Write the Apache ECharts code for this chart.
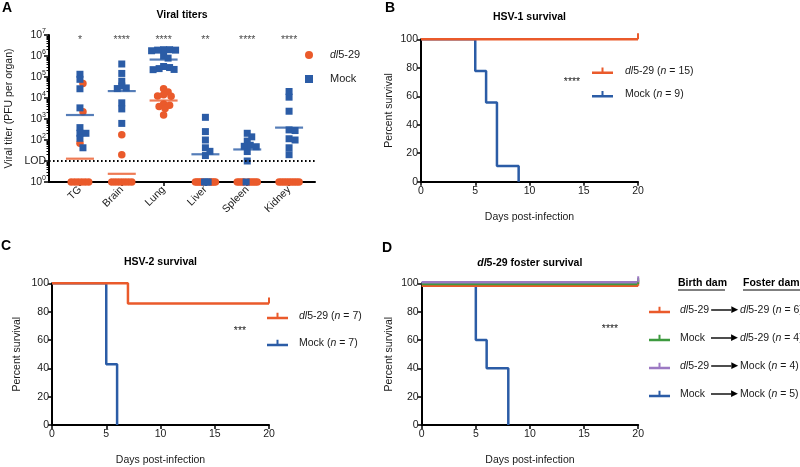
<!DOCTYPE html>
<html><head><meta charset="utf-8">
<script src="https://cdn.jsdelivr.net/npm/echarts@6/dist/echarts.min.js"></script>
<style>html,body{margin:0;padding:0;background:#fff}#c{width:800px;height:467px}</style>
</head><body><div id="c"></div>
<script>
// ---------- Panel A: log10 viral titer (PFU per organ); 0 = below LOD, plotted at 10^0 ----------
const organs = ['TG', 'Brain', 'Lung', 'Liver', 'Spleen', 'Kidney'];
const sigLabels = ['*', '****', '****', '**', '****', '****'];
const titerDl = [
  [4.69, 3.35, 1.84, 0, 0, 0, 0, 0, 0],
  [2.25, 1.30, 0, 0, 0, 0, 0, 0, 0],
  [4.44, 4.28, 4.15, 4.10, 4.08, 3.72, 3.65, 3.60, 3.50, 3.19],
  [0, 0, 0, 0, 0, 0, 0, 0, 0],
  [0, 0, 0, 0, 0, 0, 0, 0, 0],
  [0, 0, 0, 0, 0, 0, 0, 0, 0]
];
const titerMock = [
  [5.13, 4.89, 4.44, 3.53, 2.59, 2.32, 2.32, 2.08, 1.63],
  [5.62, 5.17, 4.80, 4.57, 4.48, 4.45, 3.77, 3.48, 2.79],
  [6.28, 6.30, 6.30, 6.28, 6.25, 6.00, 5.90, 5.50, 5.45, 5.40, 5.36, 5.35],
  [3.08, 2.40, 2.00, 1.63, 1.46, 1.26, 0, 0, 0],
  [2.32, 2.15, 1.95, 1.75, 1.70, 1.68, 1.45, 1.00, 0],
  [4.31, 4.04, 3.37, 2.48, 2.45, 2.06, 2.00, 1.63, 1.30]
];
const meanDl = [1.11, 0.39, 3.88, 0, 0, 0];
const meanMock = [3.19, 4.33, 5.83, 1.32, 1.55, 2.59];
const yTicksA = [0, 1, 2, 3, 4, 5, 6, 7];
const lodLog = 1;

// ---------- Survival data (day, percent survival) ----------
const hsv1DlDays = [0, 20],            hsv1DlSurv = [100, 100];
const hsv1MockDays = [0, 5, 6, 7, 9],  hsv1MockSurv = [100, 77.8, 55.6, 11.1, 0];
const hsv2DlDays = [0, 7, 20],         hsv2DlSurv = [100, 85.7, 85.7];
const hsv2MockDays = [0, 5, 6],        hsv2MockSurv = [100, 42.9, 0];
const birthDam = ['dl5-29', 'Mock', 'dl5-29', 'Mock'];
const fosterDam = ['dl5-29', 'dl5-29', 'Mock', 'Mock'];
const fosterN = [6, 4, 4, 5];
const fosterDays = [[0, 20], [0, 20], [0, 20], [0, 5, 6, 8]];
const fosterSurv = [[100, 100], [100, 100], [100, 100], [100, 60, 40, 0]];

// ---------- styling ----------
const RED = '#EA5A2B', BLUE = '#2B5CA6', GREEN = '#3D9A3F', PURPLE = '#9C79C3';
const FONT = '"Liberation Sans", Arial, sans-serif';
const TXT = '#1a1a1a';
const FS = 10.5;

const chart = echarts.init(document.getElementById('c'), null, {renderer: 'canvas'});

// Panel A geometry (for beeswarm layout)
const GA = {left: 49, top: 35, width: 266, height: 147};
const xMinA = -0.74, xMaxA = 5.62, yMaxA = 7;
const pxX = GA.width / (xMaxA - xMinA), pxY = GA.height / yMaxA;

function swarm(dlVals, mockVals, cat) {
  const outDl = [], outMock = [];
  const placed = [];
  const nz = [];
  dlVals.forEach(v => { if (v > 0) nz.push({s: 0, v}); });
  mockVals.forEach(v => { if (v > 0) nz.push({s: 1, v}); });
  nz.sort((a, b) => b.v - a.v);
  const D = 4.8, STEP = 1.5;
  nz.forEach(p => {
    const py = p.v * pxY;
    let off = 0;
    for (let k = 0; k < 80; k++) {
      const o = (k % 2 ? 1 : -1) * Math.ceil(k / 2) * STEP;
      if (placed.every(q => (o - q.x) ** 2 + (py - q.y) ** 2 >= D * D)) { off = o; break; }
    }
    placed.push({x: off, y: py});
    (p.s ? outMock : outDl).push([cat + off / pxX, p.v]);
  });
  // values below LOD: single row, spread with overlap
  const n0d = dlVals.filter(v => v === 0).length, n0m = mockVals.filter(v => v === 0).length;
  const N = n0d + n0m;
  if (N > 0) {
    const W = Math.min(20, (N - 1) * 3.5);
    const pos = [];
    for (let i = 0; i < N; i++) pos.push(N === 1 ? 0 : -W / 2 + W * i / (N - 1));
    pos.sort((a, b) => Math.abs(a) - Math.abs(b));
    pos.forEach((o, i) => {
      (i < n0m ? outMock : outDl).push([cat + o / pxX, 0]);
    });
  }
  return {outDl, outMock};
}

const dlPts = [], mockPts = [];
organs.forEach((o, i) => {
  const r = swarm(titerDl[i], titerMock[i], i);
  dlPts.push(...r.outDl); mockPts.push(...r.outMock);
});

const minorA = [];
for (let n = 0; n < 7; n++) for (let k = 2; k <= 9; k++) minorA.push(n + Math.log10(k));

const axLine = {show: true, onZero: false, lineStyle: {color: '#000', width: 2}};
const axTick = {show: true, length: 4, lineStyle: {color: '#000', width: 1.5}};
const lblStyle = {fontSize: FS, color: TXT, fontFamily: FONT};
const nameStyle = {fontSize: FS, color: TXT, fontFamily: FONT};

const grids = [
  GA,
  {left: 421, top: 39.3, width: 217, height: 142.4},
  {left: 52, top: 283.3, width: 217, height: 143.4},
  {left: 421.7, top: 283.3, width: 216.5, height: 143.4},
  // overlay grids for the overlapping 100% curves in panel D (slight vertical separation)
  {left: 421.7, top: 285.8, width: 216.5, height: 143.4},
  {left: 421.7, top: 284.1, width: 216.5, height: 143.4},
  {left: 421.7, top: 282.3, width: 216.5, height: 143.4}
];

const xAxes = [{
  gridIndex: 0, type: 'value', min: xMinA, max: xMaxA,
  axisLine: axLine,
  axisTick: {show: true, length: 4, customValues: [0, 1, 2, 3, 4, 5], lineStyle: {color: '#000', width: 1.5}},
  axisLabel: {show: true, customValues: [0, 1, 2, 3, 4, 5], rotate: 45, margin: 6, formatter: v => organs[Math.round(v)], ...lblStyle},
  splitLine: {show: false}
}];
const yAxes = [{
  gridIndex: 0, type: 'value', min: 0, max: yMaxA,
  axisLine: axLine,
  axisTick: {show: true, length: 5, customValues: yTicksA, lineStyle: {color: '#000', width: 1.5}},
  axisLabel: {
    show: true, customValues: yTicksA, margin: 3,
    formatter: v => (v === lodLog ? '{l|LOD}' : '{b|10}{s|' + v + '}'),
    rich: {
      b: {fontSize: 10.5, fontFamily: FONT, color: TXT},
      l: {fontSize: 10.5, fontFamily: FONT, color: TXT},
      s: {fontSize: 7, fontFamily: FONT, color: TXT, padding: [0, 0, 7, 0]}
    }
  },
  splitLine: {show: false},
  name: 'Viral titer (PFU per organ)', nameLocation: 'middle', nameGap: 34, nameTextStyle: nameStyle
}, {
  gridIndex: 0, type: 'value', min: 0, max: yMaxA, position: 'left',
  axisLine: {show: false, onZero: false},
  axisTick: {show: true, length: 2.5, customValues: minorA, lineStyle: {color: '#000', width: 1}},
  axisLabel: {show: false}, splitLine: {show: false}
}];

function survAxes(gi, yGap) {
  xAxes.push({
    gridIndex: gi, type: 'value', min: 0, max: 20, interval: 5,
    axisLine: axLine, axisTick: axTick, axisLabel: {margin: 4, ...lblStyle}, splitLine: {show: false},
    name: 'Days post-infection', nameLocation: 'middle', nameGap: 30, nameTextStyle: nameStyle
  });
  yAxes.push({
    gridIndex: gi, type: 'value', min: 0, max: 100, interval: 20,
    axisLine: axLine, axisTick: axTick, axisLabel: {margin: 3, ...lblStyle}, splitLine: {show: false},
    name: 'Percent survival', nameLocation: 'middle', nameGap: yGap, nameTextStyle: nameStyle
  });
}
survAxes(1, 26); // B -> x idx1, y idx2
survAxes(2, 29); // C -> x idx2, y idx3
survAxes(3, 27); // D -> x idx3, y idx4
for (let g = 4; g <= 6; g++) {
  xAxes.push({gridIndex: g, type: 'value', min: 0, max: 20, show: false});
  yAxes.push({gridIndex: g, type: 'value', min: 0, max: 100, show: false});
}

function curve(days, surv) {
  return days.map((d, i) => {
    const last = i === days.length - 1;
    if (last && surv[i] > 0) {
      return {value: [d, surv[i]], symbol: 'rect', symbolSize: [2, 6], symbolOffset: [0, -3]};
    }
    return [d, surv[i]];
  });
}
function survSeries(name, color, xi, yi, days, surv) {
  return {
    name, type: 'line', step: 'end', xAxisIndex: xi, yAxisIndex: yi,
    data: curve(days, surv), symbol: 'none', showSymbol: true,
    lineStyle: {color, width: 2.5}, itemStyle: {color}, emphasis: {disabled: true}, animation: false
  };
}

const fosterNames = birthDam.map((b, i) => `${b} → ${fosterDam[i]} (n = ${fosterN[i]})`);

const series = [
  {
    name: 'dl5-29', type: 'scatter', xAxisIndex: 0, yAxisIndex: 0, data: dlPts,
    symbol: 'circle', symbolSize: 7.5, itemStyle: {color: RED, opacity: 1}, z: 3,
    markLine: {
      silent: true, symbol: 'none', label: {show: false},
      lineStyle: {color: '#000', width: 1.8, type: [1.6, 2.4]},
      data: [{yAxis: lodLog}]
    }
  },
  {
    name: 'Mock', type: 'scatter', xAxisIndex: 0, yAxisIndex: 0, data: mockPts,
    symbol: 'rect', symbolSize: 7, itemStyle: {color: BLUE, opacity: 1}, z: 4
  },
  {
    name: 'dl5-29 mean', type: 'scatter', xAxisIndex: 0, yAxisIndex: 0,
    data: meanDl.map((m, i) => [i, m]).filter(d => d[1] > 0),
    symbol: 'rect', symbolSize: [28, 2.2], itemStyle: {color: RED}, z: 3
  },
  {
    name: 'Mock mean', type: 'scatter', xAxisIndex: 0, yAxisIndex: 0,
    data: meanMock.map((m, i) => [i, m]).filter(d => d[1] > 0),
    symbol: 'rect', symbolSize: [28, 2.2], itemStyle: {color: BLUE}, z: 5
  },
  {
    name: 'sig', type: 'scatter', xAxisIndex: 0, yAxisIndex: 0,
    data: organs.map((o, i) => [i, yMaxA]), symbolSize: 0, silent: true,
    label: {show: true, position: 'inside', offset: [0, 5], formatter: p => sigLabels[p.dataIndex],
      fontSize: FS, color: '#222', fontFamily: FONT}
  },
  // B
  survSeries('Mock (n = 9)', BLUE, 1, 2, hsv1MockDays, hsv1MockSurv),
  survSeries('dl5-29 (n = 15)', RED, 1, 2, hsv1DlDays, hsv1DlSurv),
  // C
  survSeries('Mock (n = 7)', BLUE, 2, 3, hsv2MockDays, hsv2MockSurv),
  survSeries('dl5-29 (n = 7)', RED, 2, 3, hsv2DlDays, hsv2DlSurv),
  // D
  survSeries(fosterNames[3], BLUE, 3, 4, fosterDays[3], fosterSurv[3]),
  survSeries(fosterNames[0], RED, 4, 5, fosterDays[0], fosterSurv[0]),
  survSeries(fosterNames[1], GREEN, 5, 6, fosterDays[1], fosterSurv[1]),
  survSeries(fosterNames[2], PURPLE, 6, 7, fosterDays[2], fosterSurv[2])
];

const censorIcon = 'path://M0,4.5H21V7H0Z M9.5,0.5H11.5V5H9.5Z';
const richBase = {fontSize: FS, fontFamily: FONT, color: TXT, lineHeight: 14};
const legRich = {
  i: {...richBase, fontStyle: 'italic'},
  c1: {...richBase, width: 31},
  c1i: {...richBase, fontStyle: 'italic'},
  c1r: {...richBase, width: 23},
  ln: {...richBase, width: 20, height: 1.4, lineHeight: 1.4, backgroundColor: '#000'},
  tri: {fontSize: 9, fontFamily: 'DejaVu Sans', color: '#000', padding: [0, 2, 0, 0]}
};
function fmtName(name) {
  const it = s => s.replace(/^dl/, '{i|dl}').replace('(n', '({i|n}');
  if (name.includes(' → ')) {
    const [b, rest] = name.split(' → ');
    const c1 = b.startsWith('dl') ? `{c1i|dl}{c1r|${b.slice(2)}}` : `{c1|${b}}`;
    return c1 + '{ln| }{tri|▶}' + it(rest);
  }
  return it(name);
}
const legTextStyle = {fontSize: FS, fontFamily: FONT, color: TXT, lineHeight: 14, rich: legRich};

const legends = [
  {orient: 'vertical', left: 305, top: 48, padding: 0, itemGap: 10, itemWidth: 8, itemHeight: 8,
   selectedMode: false, formatter: fmtName, textStyle: {...legTextStyle, fontSize: 11, padding: [0, 0, 0, 12]},
   data: [{name: 'dl5-29', icon: 'circle'}, {name: 'Mock', icon: 'rect'}]},
  {orient: 'vertical', left: 592, top: 63.7, padding: 0, itemGap: 9.6, itemWidth: 21, itemHeight: 6.5,
   selectedMode: false, formatter: fmtName, textStyle: {...legTextStyle, padding: [0, 0, 0, 7]}, itemStyle: {borderWidth: 0},
   data: [{name: 'dl5-29 (n = 15)', icon: censorIcon}, {name: 'Mock (n = 9)', icon: censorIcon}]},
  {orient: 'vertical', left: 267, top: 309, padding: 0, itemGap: 13, itemWidth: 21, itemHeight: 6.5,
   selectedMode: false, formatter: fmtName, textStyle: {...legTextStyle, padding: [0, 0, 0, 6]}, itemStyle: {borderWidth: 0},
   data: [{name: 'dl5-29 (n = 7)', icon: censorIcon}, {name: 'Mock (n = 7)', icon: censorIcon}]},
  {orient: 'vertical', left: 649, top: 303, padding: 0, itemGap: 14, itemWidth: 23, itemHeight: 6.5,
   selectedMode: false, formatter: fmtName, textStyle: {...legTextStyle, padding: [0, 0, 0, 4]}, itemStyle: {borderWidth: 0},
   data: fosterNames.map(n => ({name: n, icon: censorIcon}))}
];

function txt(x, y, text, opts) {
  return {type: 'text', x, y, silent: true,
    style: Object.assign({text, fill: '#000', font: `bold ${FS}px ${FONT}`, textAlign: 'center', textVerticalAlign: 'middle'}, opts || {})};
}
const graphics = [
  txt(7, 8, 'A', {font: `bold 14px ${FONT}`}),
  txt(390, 8, 'B', {font: `bold 14px ${FONT}`}),
  txt(6, 246, 'C', {font: `bold 14px ${FONT}`}),
  txt(387, 248, 'D', {font: `bold 14px ${FONT}`}),
  txt(182, 15, 'Viral titers'),
  txt(529.5, 17.5, 'HSV-1 survival'),
  txt(160.5, 262, 'HSV-2 survival'),
  {type: 'text', x: 529.8, y: 263, silent: true, style: {
    text: '{i|dl}5-29 foster survival', textAlign: 'center', textVerticalAlign: 'middle',
    font: `bold ${FS}px ${FONT}`, fill: '#000',
    rich: {i: {fontStyle: 'italic', fontWeight: 'bold', fontSize: FS, fontFamily: FONT, fill: '#000'}}
  }},
  txt(572, 82, '****', {font: `${FS}px ${FONT}`, fill: '#222'}),
  txt(240, 331, '***', {font: `${FS}px ${FONT}`, fill: '#222'}),
  txt(610, 329, '****', {font: `${FS}px ${FONT}`, fill: '#222'}),
  txt(678, 283, 'Birth dam', {textAlign: 'left'}),
  txt(743, 283, 'Foster dam', {textAlign: 'left'}),
  {type: 'line', silent: true, shape: {x1: 678, y1: 290, x2: 725, y2: 290}, style: {stroke: '#000', lineWidth: 1}},
  {type: 'line', silent: true, shape: {x1: 743, y1: 290, x2: 800, y2: 290}, style: {stroke: '#000', lineWidth: 1}}
];

chart.setOption({
  animation: false,
  backgroundColor: '#fff',
  textStyle: {fontFamily: FONT},
  grid: grids,
  xAxis: xAxes,
  yAxis: yAxes,
  legend: legends,
  series,
  graphic: graphics
});
</script>
</body></html>
